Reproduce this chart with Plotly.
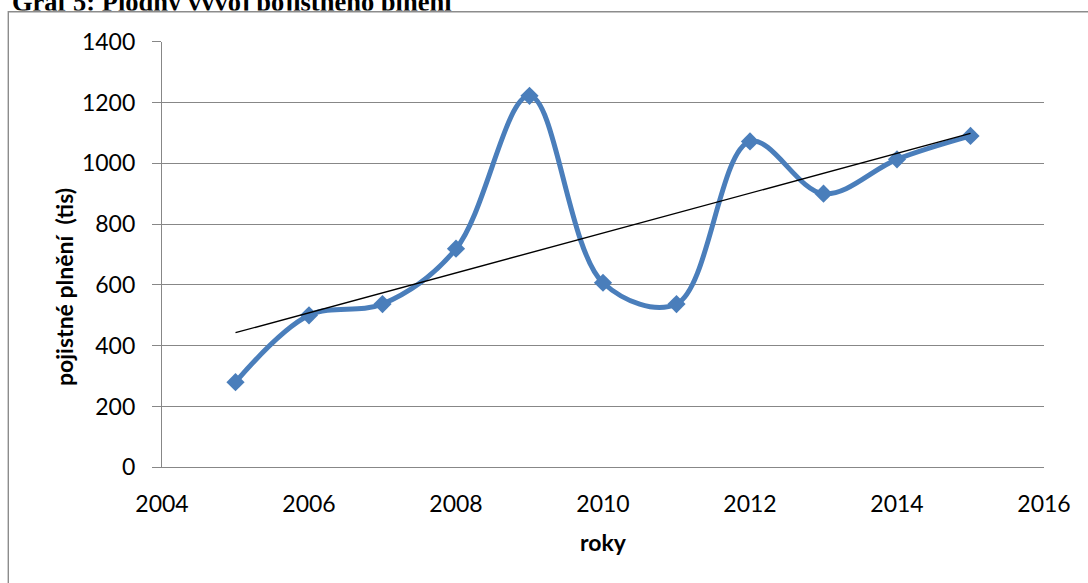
import numpy as np
import plotly.graph_objects as go

# Yearly insurance claims paid (thousands)
years = [2005, 2006, 2007, 2008, 2009, 2010, 2011, 2012, 2013, 2014, 2015]
claims = [280, 500, 537, 719, 1222, 607, 537, 1072, 900, 1013, 1090]

x_ticks = [2004, 2006, 2008, 2010, 2012, 2014, 2016]
y_ticks = [0, 200, 400, 600, 800, 1000, 1200, 1400]

title_text = "Graf 5: Plodný vývoj pojistného plnění"
y_title = "pojistné plnění  (tis)"
x_title = "roky"

W, H = 1088, 583
BLUE = "#4A7EBB"
GRID = "#878787"
FONT = "Lato"

# linear trend line
slope, intercept = np.polyfit(years, claims, 1)
trend_x = [years[0], years[-1]]
trend_y = [slope * v + intercept for v in trend_x]

fig = go.Figure()

fig.add_trace(go.Scatter(
    x=years, y=claims, mode="lines+markers",
    line=dict(color=BLUE, width=5, shape="spline", smoothing=1.0),
    marker=dict(symbol="diamond", size=14, color=BLUE),
    showlegend=False, cliponaxis=False,
))
fig.add_trace(go.Scatter(
    x=trend_x, y=trend_y, mode="lines",
    line=dict(color="black", width=1.4),
    showlegend=False,
))

# document caption above the chart frame, clipped by the frame's top edge
fig.add_trace(go.Scatter(
    x=[12], y=[4.6], mode="text", text=[title_text],
    textposition="middle right",
    textfont=dict(family="Liberation Serif", size=26.5, color="black", weight="bold"),
    xaxis="x2", yaxis="y2", showlegend=False, cliponaxis=True,
))

x0p, x1p = 162 / W, 1044 / W
y0p, y1p = (H - 467.3) / H, (H - 41.7) / H

fig.update_layout(
    width=W, height=H,
    margin=dict(l=0, r=0, t=0, b=0, pad=0, autoexpand=False),
    paper_bgcolor="white", plot_bgcolor="rgba(0,0,0,0)",
    font=dict(family=FONT, color="black"),
    xaxis=dict(
        domain=[x0p, x1p], range=[2004, 2016],
        tickmode="array", tickvals=x_ticks, ticktext=[str(v) for v in x_ticks],
        showgrid=False, zeroline=False,
        showline=True, linecolor=GRID, linewidth=1.3,
        ticks="", ticklabelstandoff=16, automargin=False,
        tickfont=dict(family=FONT, size=23, color="black"),
        anchor="y",
    ),
    yaxis=dict(
        domain=[y0p, y1p], range=[0, 1400],
        tickmode="array", tickvals=y_ticks, ticktext=[str(v) for v in y_ticks],
        showgrid=True, gridcolor=GRID, gridwidth=1.3, zeroline=False,
        showline=True, linecolor=GRID, linewidth=1.3,
        ticks="outside", ticklen=9, tickcolor=GRID, tickwidth=1.3,
        ticklabelstandoff=12, automargin=False,
        tickfont=dict(family=FONT, size=23, color="black"),
        anchor="x",
    ),
    xaxis2=dict(domain=[0, 1], range=[0, W], visible=False, anchor="y2",
                fixedrange=True, automargin=False),
    yaxis2=dict(domain=[1 - 10.4 / H, 1], range=[10.4, 0], visible=False,
                anchor="x2", fixedrange=True, automargin=False),
    shapes=[
        dict(type="rect", xref="paper", yref="paper",
             x0=8.3 / W, x1=1.05, y0=-0.05, y1=(H - 11.7) / H,
             line=dict(color="#8C8C8C", width=1.4), fillcolor="rgba(0,0,0,0)",
             layer="below"),
    ],
    annotations=[
        dict(text=y_title, xref="paper", yref="paper",
             x=64 / W, y=(H - 287) / H, textangle=-90, showarrow=False,
             xanchor="center", yanchor="middle",
             font=dict(family=FONT, size=23, color="black", weight="bold")),
        dict(text=x_title, xref="paper", yref="paper",
             x=603 / W, y=(H - 542) / H, showarrow=False,
             xanchor="center", yanchor="middle",
             font=dict(family=FONT, size=23, color="black", weight="bold")),
    ],
)

fig.write_html("out.html")
